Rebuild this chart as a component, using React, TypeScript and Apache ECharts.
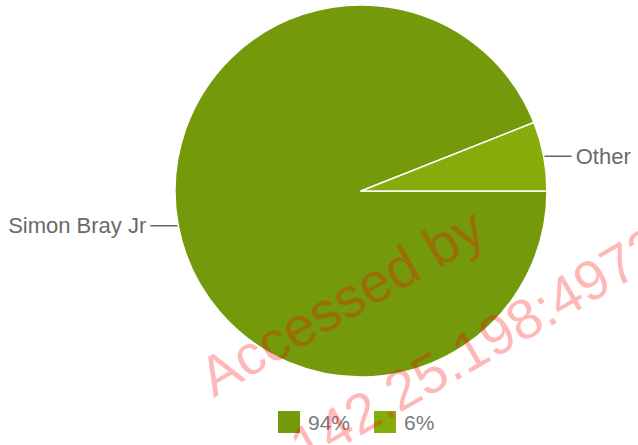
import React, { useEffect, useRef } from "react";
import * as echarts from "echarts";

const categories = ["Simon Bray Jr", "Other"];
const values = [94, 6];
const colors = ["#74990a", "#86ac0b"];
const watermarkLines = ["Accessed by", "142.25.198:49737"];

export default function App() {
  const ref = useRef<HTMLDivElement>(null);
  useEffect(() => {
    document.body.style.margin = "0";
    const chart = echarts.init(ref.current!, undefined, { renderer: "svg" });
    const total = values.reduce((a, b) => a + b, 0);
    const rot = (30 * Math.PI) / 180;
    const wmFont = '56px "Liberation Sans", Arial, sans-serif';
    chart.setOption({
      animation: false,
      backgroundColor: "#ffffff",
      color: colors,
      legend: {
        left: 276,
        top: 409,
        padding: 0,
        itemWidth: 24,
        itemHeight: 24,
        itemGap: 22,
        icon: "rect",
        textStyle: {
          fontFamily: '"Liberation Sans", Arial, sans-serif',
          fontSize: 21,
          color: "#7a7a7a",
          padding: [0, 0, 0, 2],
        },
        formatter: (name: string) => {
          const i = categories.indexOf(name);
          return Math.round((values[i] / total) * 100) + "%";
        },
      },
      series: [
        {
          type: "pie",
          center: [361, 191],
          radius: 186,
          startAngle: 0,
          clockwise: true,
          itemStyle: { borderColor: "#ffffff", borderWidth: 1.5 },
          label: {
            show: true,
            formatter: "{b}",
            fontFamily: '"Liberation Sans", Arial, sans-serif',
            fontSize: 22,
            color: "#6a6a6a",
            overflow: "none",
            distanceToLabelLine: 4,
          },
          labelLine: {
            show: true,
            length: 0.01,
            length2: 28,
            lineStyle: { color: "#666666", width: 1.5 },
          },
          emphasis: { disabled: true },
          data: categories.map((c, i) => ({ name: c, value: values[i] })),
        },
      ],
      graphic: [
        {
          type: "text",
          x: 212,
          y: 395,
          rotation: rot,
          silent: true,
          z: 100,
          style: {
            text: watermarkLines[0],
            font: wmFont,
            fill: "rgba(255,0,0,0.28)",
            align: "left",
            verticalAlign: "bottom",
            y: 12,
          },
        },
        {
          type: "text",
          x: 303,
          y: 465,
          rotation: rot,
          silent: true,
          z: 100,
          style: {
            text: watermarkLines[1],
            font: wmFont,
            fill: "rgba(255,0,0,0.28)",
            align: "left",
            verticalAlign: "bottom",
            y: 12,
          },
        },
      ],
    });
    return () => chart.dispose();
  }, []);
  return <div ref={ref} style={{ width: 638, height: 445 }} />;
}
